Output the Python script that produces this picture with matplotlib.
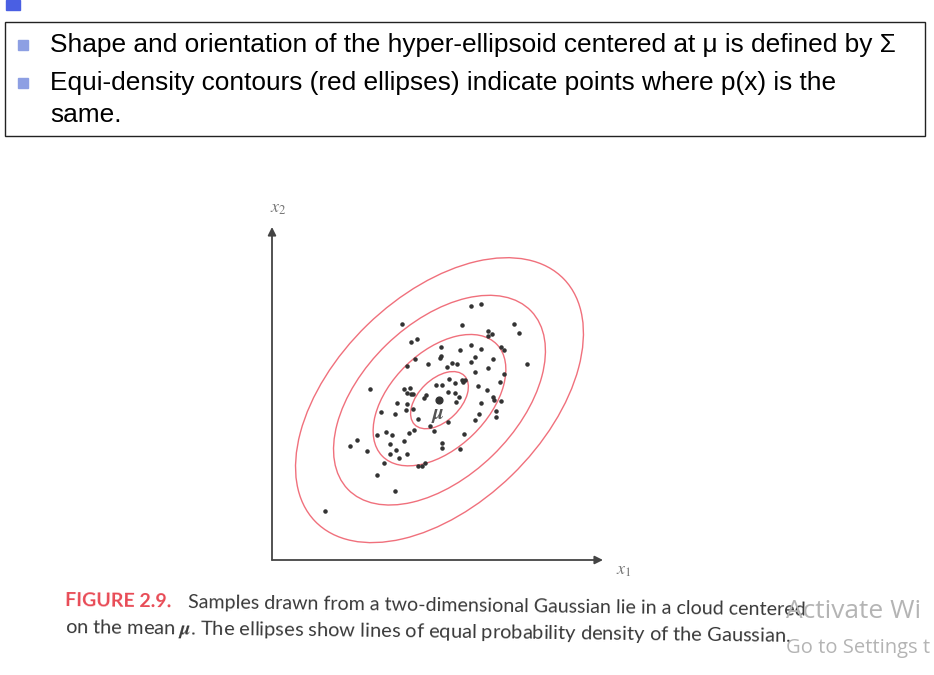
import numpy as np
import matplotlib
matplotlib.use("Agg")
import matplotlib.pyplot as plt
from matplotlib.patches import Ellipse, Rectangle

plt.rcParams['mathtext.fontset'] = 'stix'

# samples (x1, x2)
x1 = [6.00, 6.30, 3.93, 5.73, 7.31, 7.45, 6.53, 6.53, 6.64, 4.21, 4.38, 5.12, 5.68, 6.00, 6.30,
      6.91, 7.01, 4.31, 5.11, 5.09, 4.72, 5.45, 5.59, 6.01, 6.12, 6.67, 4.09, 5.29, 6.54, 6.14,
      7.00, 7.71, 5.35, 5.52, 5.74, 5.82, 5.76, 4.94, 5.13, 5.33, 5.53, 6.21, 6.51, 6.89, 2.95,
      3.98, 4.18, 4.08, 4.20, 4.27, 4.66, 4.60, 5.66, 5.57, 6.67, 6.71, 6.92, 3.78, 4.08, 4.25,
      4.06, 3.29, 3.71, 6.30, 6.77, 6.76, 6.26, 6.14, 4.41, 5.31, 4.78, 4.88, 3.44, 3.16, 3.64,
      4.15, 4.28, 3.99, 5.80, 2.56, 2.36, 3.58, 2.86, 3.76, 4.09, 3.84, 3.56, 5.14, 5.13, 5.69,
      3.37, 4.42, 4.52, 4.63, 3.18, 3.72, 1.61]
x2 = [7.63, 7.69, 7.10, 7.07, 7.08, 6.83, 6.88, 6.73, 6.78, 6.54, 6.64, 6.39, 6.31, 6.46, 6.33,
      6.41, 6.31, 6.05, 6.12, 6.06, 5.90, 5.91, 5.90, 5.95, 6.11, 6.03, 5.84, 5.79, 5.76, 5.64,
      5.58, 5.90, 5.44, 5.33, 5.40, 5.41, 5.34, 5.25, 5.25, 5.06, 5.03, 5.22, 5.11, 5.36, 5.14,
      5.14, 5.16, 5.01, 5.00, 4.97, 4.96, 4.87, 4.88, 4.73, 4.90, 4.81, 4.76, 4.72, 4.68, 4.52,
      4.50, 4.44, 4.39, 4.72, 4.46, 4.30, 4.37, 4.20, 4.22, 4.15, 4.03, 3.88, 3.85, 3.75, 3.75,
      3.81, 3.90, 3.58, 3.78, 3.59, 3.42, 3.47, 3.27, 3.31, 3.18, 3.05, 3.18, 3.51, 3.37, 3.32,
      2.91, 2.81, 2.83, 2.92, 2.55, 2.07, 1.46]
mu = (5.06, 4.80)
# semi-axes of the equal-density contours
semi_major = [5.23, 3.85, 2.41, 1.05]
semi_minor = [3.14, 2.31, 1.45, 0.63]
tilt = 44

bullet1 = "Shape and orientation of the hyper-ellipsoid centered at \u03bc is defined by \u03a3"
bullet2 = "Equi-density contours (red ellipses) indicate points where p(x) is the"
bullet2b = "same."
cap1 = "Samples drawn from a two-dimensional Gaussian lie in a cloud centered"
cap2 = r"on the mean $\boldsymbol{\mu}$. The ellipses show lines of equal probability density of the Gaussian."

fig = plt.figure(figsize=(9.34, 6.75), dpi=100)
bg = fig.add_axes([0, 0, 1, 1])
bg.set_xlim(0, 934)
bg.set_ylim(675, 0)
bg.axis("off")

# slide decoration
bg.add_patch(Rectangle((6, 0), 14, 10, color="#4a5fe3"))
bg.add_patch(Rectangle((5, 22), 920, 114, fill=False, ec="#222222", lw=1.0))
for yb in [45, 83]:
    bg.add_patch(Rectangle((18, yb - 5), 10, 10, color="#8d9fe3"))
fs = 18.9
bg.text(50, 45, bullet1, fontsize=fs, family="Liberation Sans", va="center")
bg.text(50, 83, bullet2, fontsize=fs, family="Liberation Sans", va="center")
bg.text(50, 115, bullet2b, fontsize=fs, family="Liberation Sans", va="center")

# scatter figure
ax = fig.add_axes([272 / 934, 115 / 675, 331 / 934, 333 / 675])
ax.set_xlim(0, 10)
ax.set_ylim(0, 10)
ax.axis("off")
for a, b in zip(semi_major, semi_minor):
    ax.add_patch(Ellipse(mu, 2 * a, 2 * b, angle=tilt, fill=False, ec="#f0707c", lw=1.0))
ax.scatter(x1, x2, s=5, color="#333333", zorder=3)
ax.scatter([mu[0]], [mu[1]], s=24, color="#333333", zorder=3)
ax.text(mu[0] - 0.05, mu[1] - 0.15, r"$\boldsymbol{\mu}$", fontsize=15, ha="center", va="top", color="#555555")
ax.annotate("", xy=(0, 1.0), xytext=(0, 0), xycoords="axes fraction",
            arrowprops=dict(arrowstyle="-|>", color="#444444", lw=1.3, mutation_scale=12, shrinkA=0, shrinkB=0))
ax.annotate("", xy=(1.0, 0), xytext=(0, 0), xycoords="axes fraction",
            arrowprops=dict(arrowstyle="-|>", color="#444444", lw=1.3, mutation_scale=12, shrinkA=0, shrinkB=0))
ax.text(0.02, 1.03, r"$x_2$", transform=ax.transAxes, fontsize=13, color="#777777",
        ha="center", va="bottom")
ax.text(1.04, -0.03, r"$x_1$", transform=ax.transAxes, fontsize=13, color="#777777",
        ha="left", va="center")

# caption
rot = -0.7
bg.text(65, 601, "FIGURE 2.9.", fontsize=14, family="Lato", weight="bold", color="#e84a55",
        va="center", rotation=rot, rotation_mode="anchor")
bg.text(188, 603, cap1, fontsize=14.1, family="Lato", color="#3a3a3a", va="center",
        rotation=rot, rotation_mode="anchor")
bg.text(65, 628, cap2, fontsize=14.4, family="Lato", color="#3a3a3a", va="center",
        rotation=rot, rotation_mode="anchor")

# watermark
bg.text(786, 611, "Activate Wi", fontsize=19, family="Open Sans", color="#b4b4b4",
        va="center", clip_on=True)
bg.text(786, 648, "Go to Settings t", fontsize=14.5, family="Open Sans", color="#b4b4b4",
        va="center", clip_on=True)

fig.savefig("out.png", dpi=100)
